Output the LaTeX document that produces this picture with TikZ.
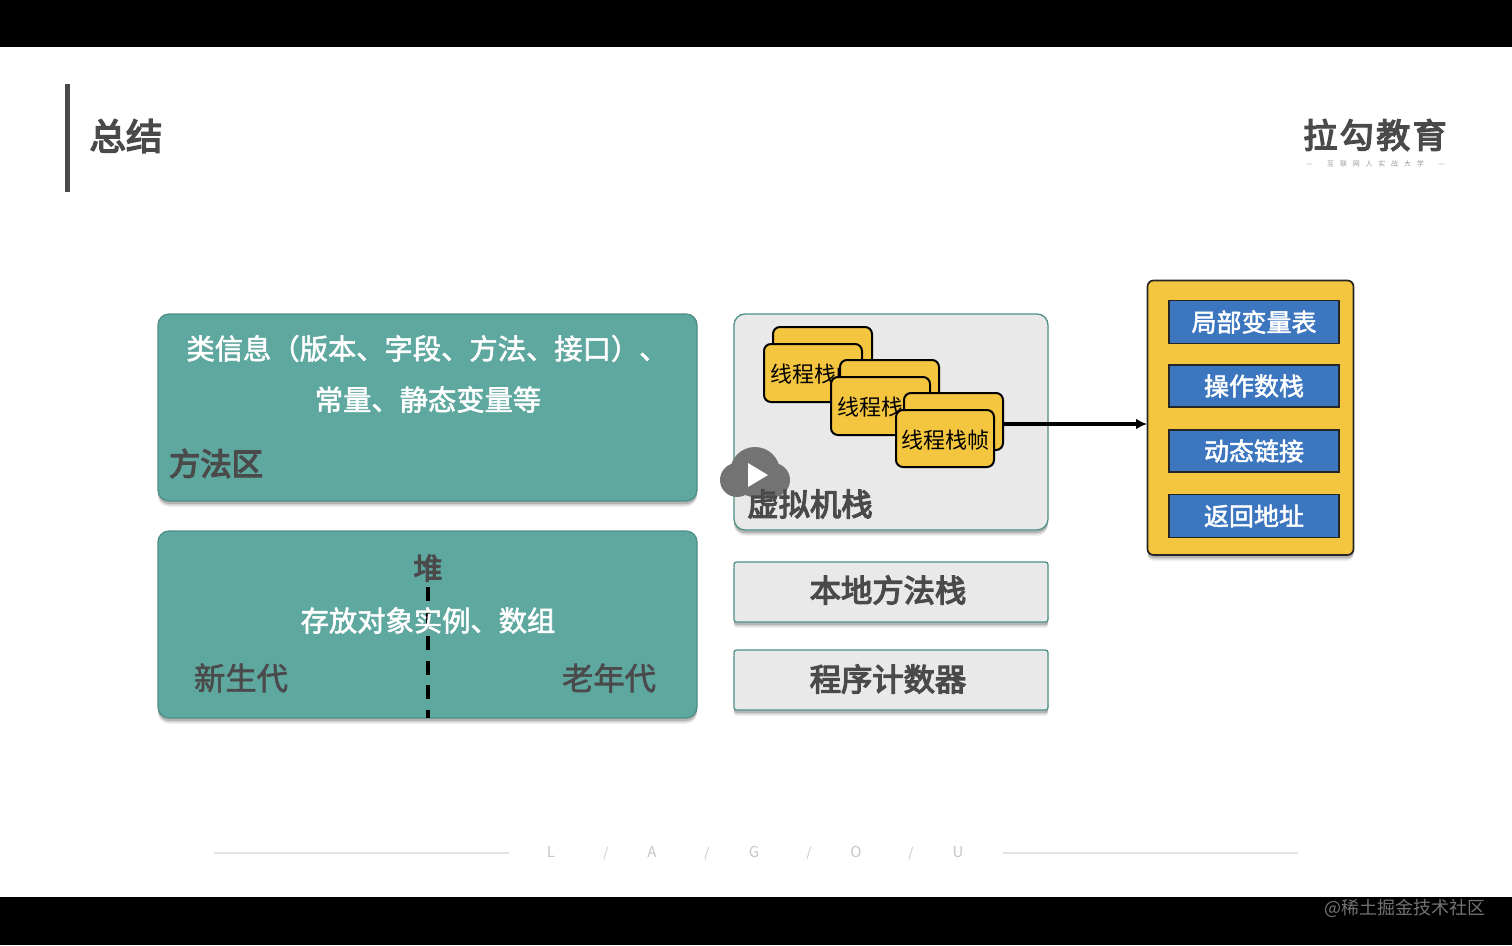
\documentclass[tikz,border=0pt]{standalone}
\usepackage{fontspec}
\setmainfont{Noto Sans CJK SC}
\newfontfamily\medfont[FakeBold=2]{Noto Sans CJK SC}
\newfontfamily\semifont[FakeBold=4]{Noto Sans CJK SC}
\usetikzlibrary{arrows.meta}
\definecolor{teal1}{HTML}{5FA8A0}
\definecolor{teal2}{HTML}{4F8F86}
\definecolor{panel}{HTML}{E9E9E9}
\definecolor{gold}{HTML}{F4C63F}
\definecolor{blue1}{HTML}{3B76BF}
\definecolor{ink}{HTML}{4A4A4A}
\newcommand{\fs}[1]{\fontsize{#1pt}{#1pt}\selectfont}
\tikzset{
  x=1pt,y=-1pt,
  every node/.style={inner sep=0,outer sep=0,anchor=center,align=center},
  shad/.style={
    preaction={fill=black,draw=none,opacity=.06,transform canvas={yshift=-6pt}},
    preaction={fill=black,draw=none,opacity=.10,transform canvas={yshift=-4.5pt}},
    preaction={fill=black,draw=none,opacity=.16,transform canvas={yshift=-3pt}}},
  tealbox/.style={fill=teal1,draw=teal2,line width=1.3pt,rounded corners=11pt,shad},
  greybox/.style={fill=panel,draw=teal2,line width=1.3pt,rounded corners=11pt,shad},
  flatbox/.style={fill=panel,draw=teal2,line width=1.3pt,rounded corners=2.5pt,shad},
  card/.style={fill=gold,draw=black,line width=2pt,rounded corners=7pt},
  slot/.style={fill=blue1,draw=black!85,line width=1.5pt},
  frameb/.style={fill=gold,draw=black!85,line width=1.7pt,rounded corners=6pt,shad},
  whitet/.style={text=white},
}
\begin{document}
\begin{tikzpicture}
\useasboundingbox (0,0) rectangle (1512,945);
\fill[white] (0,0) rectangle (1512,945);
\fill[black] (0,0) rectangle (1512,47);
\fill[black] (0,897) rectangle (1512,945);
% header
\fill[ink] (65,84) rectangle (70,192);
\node[text=ink,font=\semifont\fs{36.5}] (title) at (126,136) {总结};
\node[text=ink,font=\semifont\fs{34}] (logo) at (1375,135) {拉\hspace{2.5pt}勾\hspace{2.5pt}教\hspace{2.5pt}育};
\node[text=black!40,font=\fs{7}] (slogan) at (1375.5,164) {—\hspace{14.5pt}互\hspace{5.8pt}联\hspace{5.8pt}网\hspace{5.8pt}人\hspace{5.8pt}实\hspace{5.8pt}战\hspace{5.8pt}大\hspace{5.8pt}学\hspace{14.5pt}—};
% footer
\coordinate (fl1) at (214,853); \coordinate (fl2) at (509,853);
\coordinate (fr1) at (1003,853); \coordinate (fr2) at (1298,853);
\draw[black!11,line width=1.4pt] (fl1) -- (fl2);
\draw[black!11,line width=1.4pt] (fr1) -- (fr2);
\foreach \t/\x [count=\i] in {L/551,A/652,G/754,O/856,U/958}
  \node[text=black!22,font=\fs{15}] (foot\i) at (\x,852) {\t};
\foreach \x [count=\i] in {606,707,809,911}
  \node[text=black!22,font=\fs{13}] (sep\i) at (\x,853) {\char`\/};
\node[text=white!45!black,font=\fs{18}] (mark) at (1404.5,908) {@稀土掘金技术社区};
% method area
\draw[tealbox] (158,314) rectangle (697,501);
\node[whitet,font=\medfont\fs{28.3}] (m1) at (427,348.5) {类信息（版本、字段、方法、接口）、};
\node[whitet,font=\medfont\fs{28.3}] (m2) at (428,399.5) {常量、静态变量等};
\node[text=ink,font=\semifont\fs{31.3}] (m3) at (216,463.5) {方法区};
% heap
\draw[tealbox] (158,531) rectangle (697,718);
\coordinate (d1) at (428,587); \coordinate (d2) at (428,718);
\draw[black,line width=3.4pt,dash pattern=on 14pt off 10.5pt] (d1) -- (d2);
\node[text=ink,font=\semifont\fs{29}] (h1) at (428,568) {堆};
\node[whitet,font=\medfont\fs{28.3}] (h2) at (428,620.5) {存放对象实例、数组};
\node[text=ink,font=\medfont\fs{31.3}] (h3) at (241,678) {新生代};
\node[text=ink,font=\medfont\fs{31.3}] (h4) at (609,678) {老年代};
% vm stack
\draw[greybox] (734,314) rectangle (1048,530);
\draw[card] (773,327) rectangle (872,390);
\draw[card] (764,344) rectangle (862,402);
\node[font=\fs{22},anchor=west] (c1) at (770,374) {线程栈帧};
\draw[card] (840,360) rectangle (939,423);
\draw[card] (831,377) rectangle (930,435);
\node[font=\fs{22},anchor=west] (c2) at (837,407) {线程栈帧};
\draw[card] (904,393) rectangle (1003,450);
\draw[card] (896,410) rectangle (994,467);
\node[font=\fs{22},anchor=west] (c3) at (901,440) {线程栈帧};
% play badge
\fill[black!55] (755,472) circle (25);
\fill[black!55] (737,480) circle (17);
\fill[black!55] (773,480) circle (17);
\fill[white] (748,463) -- (768,475) -- (748,487) -- cycle;
\node[text=ink,font=\semifont\fs{31.3}] (vm) at (810,504) {虚拟机栈};
% native + pc
\draw[flatbox] (734,562) rectangle (1048,622);
\node[text=ink,font=\semifont\fs{31.3}] (nat) at (888,590) {本地方法栈};
\draw[flatbox] (734,650) rectangle (1048,710);
\node[text=ink,font=\semifont\fs{31.3}] (pc) at (888,679) {程序计数器};
% frame
\path[frameb] (1147.5,280.5) rectangle (1353.5,555);
\coordinate (framew) at (1147,424);
\node[slot,minimum width=170pt,minimum height=43pt,text=white,font=\medfont\fs{25}] (s1) at (1254,322) {\raisebox{1pt}{局部变量表}};
\node[slot,minimum width=170pt,minimum height=42pt,text=white,font=\medfont\fs{25}] (s2) at (1254,386) {\raisebox{1pt}{操作数栈}};
\node[slot,minimum width=170pt,minimum height=42pt,text=white,font=\medfont\fs{25}] (s3) at (1254,451) {\raisebox{1pt}{动态链接}};
\node[slot,minimum width=170pt,minimum height=43pt,text=white,font=\medfont\fs{25}] (s4) at (1254,516) {\raisebox{1pt}{返回地址}};
\coordinate (cardout) at (1003,424);
\draw[black,line width=3.4pt,-{Latex[length=11pt,width=11pt]}] (cardout) -- (framew);
\end{tikzpicture}
\end{document}
